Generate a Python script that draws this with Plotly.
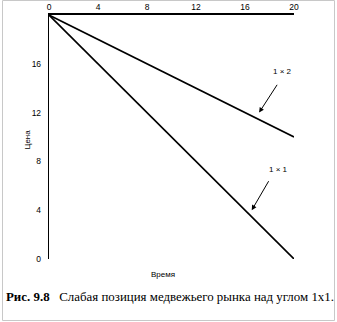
import plotly.graph_objects as go

# Gann angle lines from the top (time 0, price 20)
time = [0, 20]
line_1x1 = [20, 0]
line_1x2 = [20, 10]

x_ticks = [0, 4, 8, 12, 16, 20]
y_ticks = [0, 4, 8, 12, 16]

W, H = 337, 322
L, R, T, B = 49, 43, 15, 63

fig = go.Figure()
for ys in (line_1x1, line_1x2):
    fig.add_trace(go.Scatter(x=time, y=ys, mode="lines",
                             line=dict(color="black", width=1.6),
                             showlegend=False, hoverinfo="skip"))

tick_font = dict(family="Liberation Sans, Arial", size=8.5, color="#000")

fig.update_layout(
    width=W, height=H,
    margin=dict(l=L, r=R, t=T, b=B, pad=0, autoexpand=False),
    paper_bgcolor="white", plot_bgcolor="white",
    xaxis=dict(range=[0, 20], side="top", tickvals=x_ticks,
               ticktext=[str(v) for v in x_ticks], ticks="",
               showgrid=False, zeroline=False, showline=True,
               linecolor="black", linewidth=2, tickfont=tick_font,
               automargin=False, fixedrange=True),
    yaxis=dict(range=[0, 20], tickvals=y_ticks,
               ticktext=[str(v) for v in y_ticks], ticks="",
               showgrid=False, zeroline=False, showline=True,
               linecolor="black", linewidth=1.4, tickfont=tick_font,
               ticklabelstandoff=5, automargin=False, fixedrange=True),
)

def px_to_paper(px, py):
    return (px - L) / (W - L - R), (H - B - py) / (H - T - B)

# Thin frame around the whole figure
x0, y0 = px_to_paper(2.5, 320.5)
x1, y1 = px_to_paper(334.5, 0.5)
fig.add_shape(type="rect", xref="paper", yref="paper",
              x0=x0, y0=y0, x1=x1, y1=y1,
              line=dict(color="#c8c8c8", width=1))

label_font = dict(family="Liberation Sans, Arial", size=8, color="#000")

# Angle labels with arrows pointing at the lines
fig.add_annotation(x=19.1, y=15.35, text="1 × 2", showarrow=False,
                   font=label_font)
fig.add_annotation(x=17.15, y=12.0, ax=18.7, ay=14.4, axref="x", ayref="y",
                   text="", showarrow=True, arrowhead=2, arrowsize=1,
                   arrowwidth=1, arrowcolor="black")
fig.add_annotation(x=18.7, y=7.35, text="1 × 1", showarrow=False,
                   font=label_font)
fig.add_annotation(x=16.55, y=4.0, ax=18.0, ay=6.5, axref="x", ayref="y",
                   text="", showarrow=True, arrowhead=2, arrowsize=1,
                   arrowwidth=1, arrowcolor="black")

# Axis titles
px_, py_ = px_to_paper(20, 140)
fig.add_annotation(xref="paper", yref="paper", x=px_, y=py_, text="Цена",
                   textangle=-90, showarrow=False, font=label_font)
px_, py_ = px_to_paper(163, 281)
fig.add_annotation(xref="paper", yref="paper", x=px_, y=py_, text="Время",
                   showarrow=False, font=label_font)

# Caption
px_, py_ = px_to_paper(4, 306)
fig.add_annotation(xref="paper", yref="paper", x=px_, y=py_, xanchor="left",
                   text="<b>Рис. 9.8</b>&nbsp;&nbsp; Слабая позиция медвежьего рынка над углом 1x1.",
                   showarrow=False,
                   font=dict(family="Liberation Serif, Times New Roman", size=12.9, color="black"))

fig.write_html("out.html")
